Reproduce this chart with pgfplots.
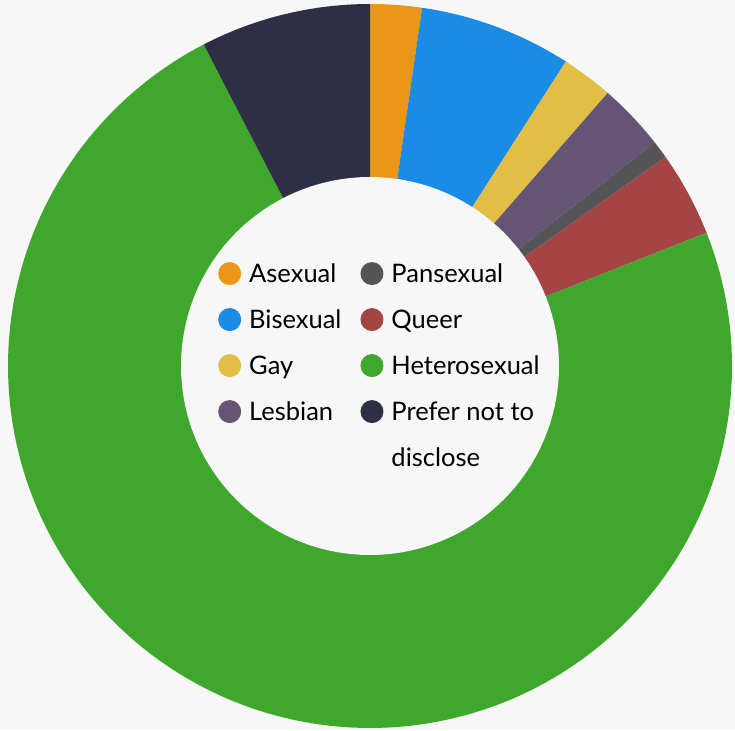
\documentclass[border=0pt]{standalone}
\usepackage{fontspec}
\setmainfont{Lato}
\usepackage{pgfplots}
\pgfplotsset{compat=1.18}
\definecolor{bg}{HTML}{F7F7F7}
\definecolor{cAse}{HTML}{EB9619}
\definecolor{cBi}{HTML}{1A8CE3}
\definecolor{cGay}{HTML}{E2BE46}
\definecolor{cLes}{HTML}{645576}
\definecolor{cPan}{HTML}{555558}
\definecolor{cQue}{HTML}{A54444}
\definecolor{cHet}{HTML}{40A72D}
\definecolor{cPre}{HTML}{2E2F45}
% shares in percent
\def\vAse{2.3}
\def\vBi{6.8}
\def\vGay{2.3}
\def\vLes{3.0}
\def\vPan{0.8}
\def\vQue{3.8}
\def\vHet{73.4}
\def\vPre{7.6}
\pgfmathsetmacro\sAse{0}
\pgfmathsetmacro\eAse{\sAse+3.6*\vAse}
\pgfmathsetmacro\eBi{\eAse+3.6*\vBi}
\pgfmathsetmacro\eGay{\eBi+3.6*\vGay}
\pgfmathsetmacro\eLes{\eGay+3.6*\vLes}
\pgfmathsetmacro\ePan{\eLes+3.6*\vPan}
\pgfmathsetmacro\eQue{\ePan+3.6*\vQue}
\pgfmathsetmacro\eHet{\eQue+3.6*\vHet}
\pgfmathsetmacro\ePre{\eHet+3.6*\vPre}
\def\Ro{362}
\def\Ri{189}
\begin{document}
\begin{tikzpicture}
\begin{axis}[
  scale only axis, width=735pt, height=730pt,
  xmin=-370, xmax=365, ymin=-364, ymax=366,
  axis line style={draw=none}, ticks=none,
  axis background/.style={fill=bg},
  legend columns=4, transpose legend,
  legend cell align=left,
  legend image code/.code={\fill[#1, draw=none] (11.5pt,0pt) circle (11.5pt);},
  legend style={at={(0.2925,0.644)}, anchor=north west, draw=none, fill=none,
    font=\fontsize{25.5}{30}\selectfont, row sep=23pt, column sep=8pt,
    nodes={inner sep=0pt},
    /tikz/every even column/.append style={column sep=19pt, text height=20pt, text depth=7pt}},
]
\addplot[fill=cAse, draw=none, domain=\sAse:\eAse, samples=20, forget plot] ({\Ro*sin(x)},{\Ro*cos(x)}) -- (axis cs:0,0) -- cycle;
\addplot[fill=cBi, draw=none, domain=\eAse:\eBi, samples=30, forget plot] ({\Ro*sin(x)},{\Ro*cos(x)}) -- (axis cs:0,0) -- cycle;
\addplot[fill=cGay, draw=none, domain=\eBi:\eGay, samples=20, forget plot] ({\Ro*sin(x)},{\Ro*cos(x)}) -- (axis cs:0,0) -- cycle;
\addplot[fill=cLes, draw=none, domain=\eGay:\eLes, samples=20, forget plot] ({\Ro*sin(x)},{\Ro*cos(x)}) -- (axis cs:0,0) -- cycle;
\addplot[fill=cPan, draw=none, domain=\eLes:\ePan, samples=10, forget plot] ({\Ro*sin(x)},{\Ro*cos(x)}) -- (axis cs:0,0) -- cycle;
\addplot[fill=cQue, draw=none, domain=\ePan:\eQue, samples=20, forget plot] ({\Ro*sin(x)},{\Ro*cos(x)}) -- (axis cs:0,0) -- cycle;
\addplot[fill=cHet, draw=none, domain=\eQue:\eHet, samples=200, forget plot] ({\Ro*sin(x)},{\Ro*cos(x)}) -- (axis cs:0,0) -- cycle;
\addplot[fill=cPre, draw=none, domain=\eHet:\ePre, samples=30, forget plot] ({\Ro*sin(x)},{\Ro*cos(x)}) -- (axis cs:0,0) -- cycle;
\addplot[fill=bg, draw=none, domain=0:360, samples=241, forget plot] ({\Ri*sin(x)},{\Ri*cos(x)}) -- cycle;
\addlegendimage{fill=cAse}\addlegendentry{Asexual}
\addlegendimage{fill=cBi}\addlegendentry{Bisexual}
\addlegendimage{fill=cGay}\addlegendentry{Gay}
\addlegendimage{fill=cLes}\addlegendentry{Lesbian}
\addlegendimage{fill=cPan}\addlegendentry{Pansexual}
\addlegendimage{fill=cQue}\addlegendentry{Queer}
\addlegendimage{fill=cHet}\addlegendentry{Heterosexual}
\addlegendimage{fill=cPre}\addlegendentry{\begin{tabular}[t]{@{}l@{}}Prefer not to\\[16pt]disclose\end{tabular}}
\end{axis}
\end{tikzpicture}
\end{document}
